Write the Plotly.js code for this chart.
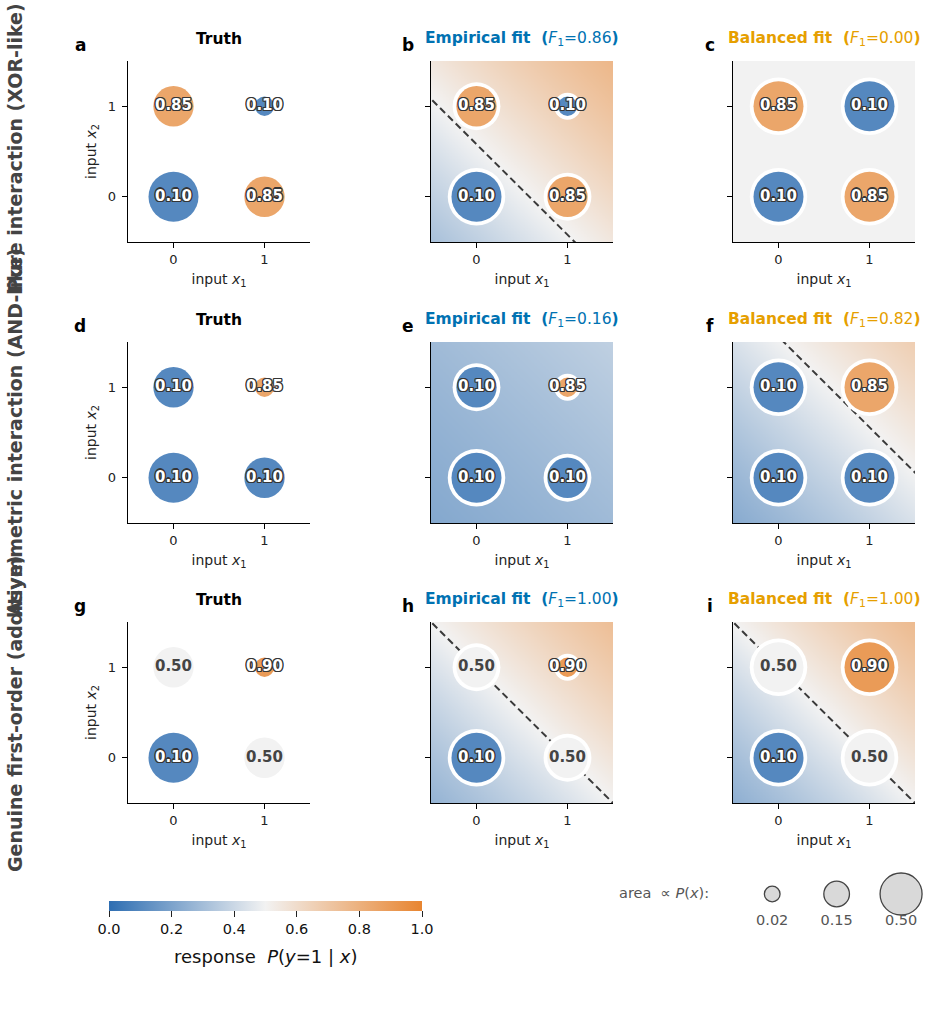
<!DOCTYPE html>
<html><head><meta charset="utf-8">
<script src="https://cdn.plot.ly/plotly-3.0.1.min.js"></script>
<style>html,body{margin:0;padding:0;background:#fff}#chart{width:932px;height:1029px}</style>
</head><body><div id="chart"></div>
<script>
// ---------------- data ----------------
const gridX1 = [0, 1, 0, 1];
const gridX2 = [0, 0, 1, 1];
const tickLabels = ['0', '1'];
const rowLabels = ['Pure interaction (XOR-like)', 'Asymmetric interaction (AND-like)', 'Genuine first-order (additive)'];
const panelLetters = ['a', 'b', 'c', 'd', 'e', 'f', 'g', 'h', 'i'];
// true response P(y=1|x) at (0,0),(1,0),(0,1),(1,1)
const truthXor = [0.10, 0.85, 0.85, 0.10];
const truthAnd = [0.10, 0.10, 0.10, 0.85];
const truthAdd = [0.10, 0.50, 0.50, 0.90];
// input distribution P(x)
const massXor = [0.40, 0.26, 0.26, 0.06];
const massAnd = [0.40, 0.26, 0.26, 0.06];
const massAdd = [0.40, 0.26, 0.26, 0.06];
const massBalanced = [0.25, 0.25, 0.25, 0.25];
// F1 scores
const f1Empirical = [0.86, 0.16, 1.00];
const f1Balanced = [0.00, 0.82, 1.00];
// fitted logistic coefficients [intercept, w1, w2]
const coefEmpXor = [-0.29, 0.50, 0.50];
const coefBalXor = [0.00, 0.00, 0.00];
const coefEmpAnd = [-1.085, 0.185, 0.185];
const coefBalAnd = [-0.74, 0.475, 0.475];
const coefEmpAdd = [-0.52, 0.52, 0.52];
const coefBalAdd = [-0.56, 0.56, 0.56];
// size legend
const legendMass = [0.02, 0.15, 0.50];
const legendLabels = ['0.02', '0.15', '0.50'];
const colorbarTicks = [0, 0.2, 0.4, 0.6, 0.8, 1.0];
const colorbarTickText = ['0.0', '0.2', '0.4', '0.6', '0.8', '1.0'];

// ---------------- style ----------------
const W = 932, H = 1029;
const FONT = 'DejaVu Sans, sans-serif';
const BLUE = '#0072b2', ORANGE = '#e69f00';
const colorscale = [[0, '#2e6eb2'], [0.5, '#f2f2f2'], [1, '#e88530']];
const xPx = [[128, 310], [431, 613], [733, 915]];
const yPx = [[61, 242], [342, 523], [622, 803]];
const MAXD = 50, HALO = 7.5;
const SC = '#353535';
const STROKE = ['1.2px 0 0 ' + SC, '-1.2px 0 0 ' + SC, '0 1.2px 0 ' + SC, '0 -1.2px 0 ' + SC,
  '1px 1px 0 ' + SC, '-1px -1px 0 ' + SC, '1px -1px 0 ' + SC, '-1px 1px 0 ' + SC].join(', ');

const rows = [
  {truth: truthXor, mass: massXor, emp: coefEmpXor, bal: coefBalXor},
  {truth: truthAnd, mass: massAnd, emp: coefEmpAnd, bal: coefBalAnd},
  {truth: truthAdd, mass: massAdd, emp: coefEmpAdd, bal: coefBalAdd}
];

function diam(mass) { const m = Math.max(...mass); return mass.map(p => MAXD * Math.sqrt(p / m)); }
const sig = z => 1 / (1 + Math.exp(-z));
const grid = []; for (let i = 0; i <= 120; i++) grid.push(-0.5 + 2 * i / 120);

const traces = [];
const layout = {
  width: W, height: H, margin: {l: 0, r: 0, t: 0, b: 0},
  paper_bgcolor: '#fff', plot_bgcolor: 'rgba(0,0,0,0)', showlegend: false,
  font: {family: FONT, size: 13, color: '#000'},
  annotations: []
};

rows.forEach((row, r) => {
  for (let c = 0; c < 3; c++) {
    const k = r * 3 + c + 1;
    const xs = 'x' + (k === 1 ? '' : k), ys = 'y' + (k === 1 ? '' : k);
    const xName = 'xaxis' + (k === 1 ? '' : k), yName = 'yaxis' + (k === 1 ? '' : k);
    layout[xName] = {
      domain: [xPx[c][0] / W, xPx[c][1] / W], range: [-0.5, 1.5], anchor: ys,
      tickvals: [0, 1], ticktext: tickLabels, ticks: 'outside', ticklen: 5, tickwidth: 1.2, tickcolor: '#000',
      showline: true, linecolor: '#000', linewidth: 1.3, showgrid: false, zeroline: false, fixedrange: true,
      tickfont: {size: 13, color: '#222'}, automargin: false,
      title: {text: 'input <i>x</i><sub>1</sub>', font: {size: 14, color: '#222'}, standoff: 8}
    };
    layout[yName] = {
      domain: [1 - yPx[r][1] / H, 1 - yPx[r][0] / H], range: [-0.5, 1.5], anchor: xs,
      tickvals: [0, 1], ticktext: tickLabels, ticks: 'outside', ticklen: 5, tickwidth: 1.2, tickcolor: '#000',
      showline: true, linecolor: '#000', linewidth: 1.3, showgrid: false, zeroline: false, fixedrange: true,
      tickfont: {size: 13, color: '#222'}, automargin: false, showticklabels: c === 0, ticklabelstandoff: 3,
      title: c === 0 ? {text: 'input <i>x</i><sub>2</sub>', font: {size: 14, color: '#222'}, standoff: 8} : {text: ''}
    };
    let sizes;
    if (c > 0) {
      const coef = c === 1 ? row.emp : row.bal;
      const z = grid.map(y => grid.map(x => sig(coef[0] + coef[1] * x + coef[2] * y)));
      const hm = {type: 'heatmap', x: grid, y: grid, z: z, xaxis: xs, yaxis: ys, zmin: 0, zmax: 1,
        colorscale: colorscale, zsmooth: 'best', showscale: false, hoverinfo: 'skip'};
      if (k === 2) {
        hm.showscale = true;
        hm.colorbar = {
          orientation: 'h', lenmode: 'pixels', len: 313, thicknessmode: 'pixels', thickness: 10,
          x: 265.5 / W, xanchor: 'center', y: 1 - 901 / H, yanchor: 'top', xpad: 0, ypad: 0,
          outlinewidth: 0, tickvals: colorbarTicks, ticktext: colorbarTickText, ticks: 'outside',
          ticklen: 6, tickcolor: '#222', tickfont: {size: 14.5, color: '#111'}, title: {text: ''}
        };
      }
      traces.push(hm);
      if (coef[2] !== 0) {
        const lx = [-1, 2.5];
        traces.push({type: 'scatter', mode: 'lines', x: lx, y: lx.map(x => (-coef[0] - coef[1] * x) / coef[2]),
          xaxis: xs, yaxis: ys, line: {color: '#3a3a3a', width: 2, dash: '7px,4px'}, hoverinfo: 'skip'});
      }
      sizes = diam(c === 1 ? row.mass : massBalanced);
      traces.push({type: 'scatter', mode: 'markers', x: gridX1, y: gridX2, xaxis: xs, yaxis: ys,
        marker: {size: sizes.map(d => d + HALO), color: '#ffffff', opacity: 1, line: {width: 0}}, hoverinfo: 'skip', cliponaxis: false});
    } else {
      sizes = diam(row.mass);
    }
    traces.push({type: 'scatter', mode: 'markers', x: gridX1, y: gridX2, xaxis: xs, yaxis: ys,
      marker: {size: sizes, color: row.truth, cmin: 0, cmax: 1, colorscale: colorscale, opacity: 1, line: {width: 0}},
      hoverinfo: 'skip', cliponaxis: false});
    const dark = row.truth.map(v => Math.abs(v - 0.5) < 0.15);
    const pick = (arr, f) => arr.filter((_, i) => dark[i] === f);
    traces.push({type: 'scatter', mode: 'text', x: pick(gridX1, false), y: pick(gridX2, false), xaxis: xs, yaxis: ys,
      text: pick(row.truth, false).map(v => v.toFixed(2)), textposition: 'middle center',
      textfont: {family: FONT, size: 15, color: '#ffffff', weight: 'bold', shadow: STROKE}, hoverinfo: 'skip', cliponaxis: false});
    traces.push({type: 'scatter', mode: 'text', x: pick(gridX1, true), y: pick(gridX2, true), xaxis: xs, yaxis: ys,
      text: pick(row.truth, true).map(v => v.toFixed(2)), textposition: 'middle center',
      textfont: {family: FONT, size: 15, color: '#444444', weight: 'bold'}, hoverinfo: 'skip', cliponaxis: false});

    // titles
    const cx = (xPx[c][0] + xPx[c][1]) / 2 / W;
    const ty = 1 - (yPx[r][0] - 22) / H;
    let title, col;
    if (c === 0) { title = '<b>Truth</b>'; col = '#000'; }
    else if (c === 1) { title = '<b>Empirical fit  (</b><i>F</i><sub>1</sub>=' + f1Empirical[r].toFixed(2) + '<b>)</b>'; col = BLUE; }
    else { title = '<b>Balanced fit  (</b><i>F</i><sub>1</sub>=' + f1Balanced[r].toFixed(2) + '<b>)</b>'; col = ORANGE; }
    layout.annotations.push({text: title, x: cx, y: ty, xref: 'paper', yref: 'paper', xanchor: 'center', yanchor: 'middle',
      showarrow: false, font: {size: 15.5, color: col}});
    const lx = [80, 408, 710][c];
    layout.annotations.push({text: '<b>' + panelLetters[k - 1] + '</b>', x: lx / W, y: 1 - (yPx[r][0] - 16) / H,
      xref: 'paper', yref: 'paper', xanchor: 'center', yanchor: 'middle', showarrow: false, font: {size: 17, color: '#000'}});
  }
  layout.annotations.push({text: '<b>' + rowLabels[r] + '</b>', x: 15 / W, y: 1 - ([148, 432, 714][r]) / H,
    xref: 'paper', yref: 'paper', xanchor: 'center', yanchor: 'middle', textangle: -90, showarrow: false,
    font: {size: 19, color: '#444'}});
});

// colorbar title
layout.annotations.push({text: 'response  <i>P</i>(<i>y</i>=1 | <i>x</i>)', x: 265.5 / W, y: 1 - 956 / H,
  xref: 'paper', yref: 'paper', xanchor: 'center', yanchor: 'middle', showarrow: false, font: {size: 18, color: '#111'}});

// size legend
const LEG_A = 183, LEG_B = 3161;
layout.xaxis10 = {domain: [740 / W, 1], range: [-0.5, 2.48], visible: false, fixedrange: true, anchor: 'y10'};
layout.yaxis10 = {domain: [1 - 934.5 / H, 1 - 880.5 / H], range: [-1.5, 0.5], visible: false, fixedrange: true, anchor: 'x10'};
const legIdx = legendMass.map((_, i) => i);
traces.push({type: 'scatter', mode: 'markers', x: legIdx, y: legendMass.map(() => 0), xaxis: 'x10', yaxis: 'y10',
  marker: {size: legendMass.map(p => Math.sqrt(LEG_A + LEG_B * p)), color: '#d9d9d9', opacity: 1, line: {color: '#444', width: 1.3}},
  hoverinfo: 'skip', cliponaxis: false});
traces.push({type: 'scatter', mode: 'text', x: legIdx, y: legendMass.map(() => -1), xaxis: 'x10', yaxis: 'y10',
  text: legendLabels, textposition: 'middle center', textfont: {size: 14.5, color: '#555'}, hoverinfo: 'skip', cliponaxis: false});
layout.annotations.push({text: 'area  ∝ <i>P</i>(<i>x</i>):', x: 711 / W, y: 1 - 893 / H, xref: 'paper', yref: 'paper',
  xanchor: 'right', yanchor: 'middle', showarrow: false, font: {size: 14.5, color: '#555'}});

Plotly.newPlot('chart', traces, layout, {displayModeBar: false, staticPlot: true});
</script>
</body></html>
